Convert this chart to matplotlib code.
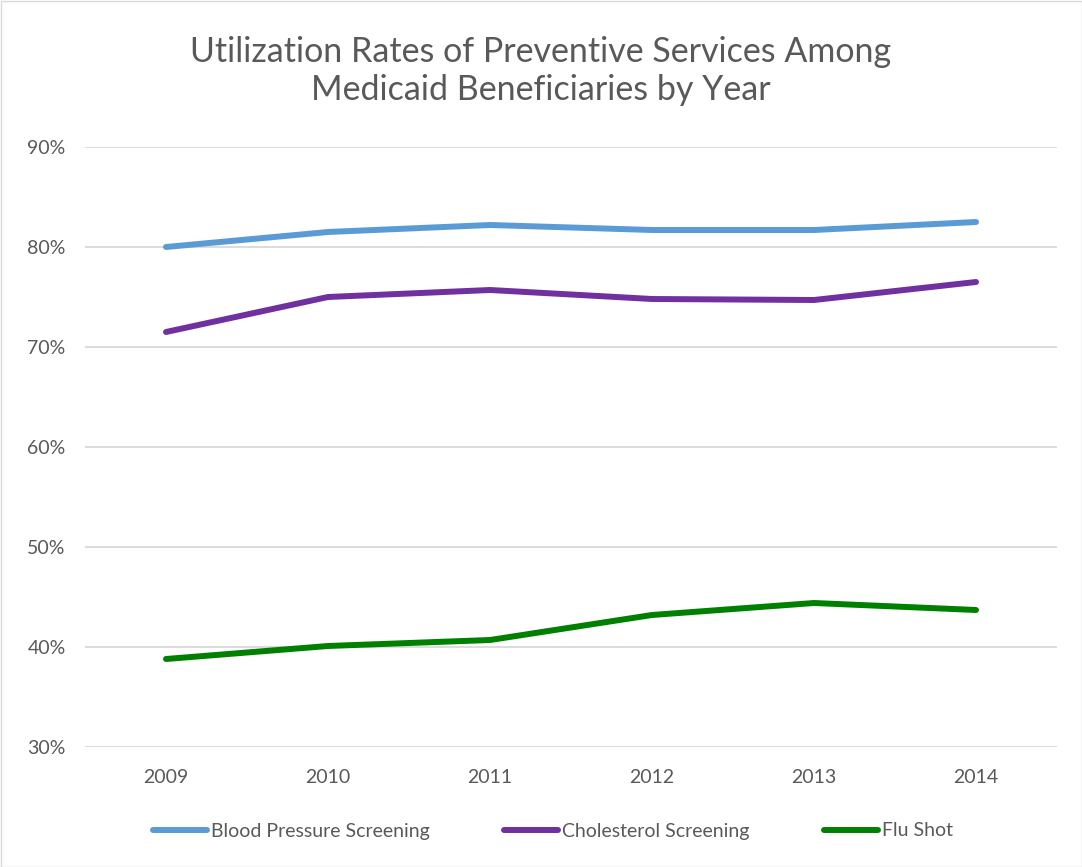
import matplotlib
matplotlib.use("Agg")
import matplotlib.pyplot as plt
from matplotlib.ticker import FuncFormatter
from matplotlib.patches import Rectangle

years = ["2009", "2010", "2011", "2012", "2013", "2014"]
blood_pressure = [80.0, 81.5, 82.2, 81.7, 81.7, 82.5]
cholesterol = [71.5, 75.0, 75.7, 74.8, 74.7, 76.5]
flu_shot = [38.8, 40.1, 40.7, 43.2, 44.4, 43.7]
series_names = ["Blood Pressure Screening", "Cholesterol Screening", "Flu Shot"]
colors = ["#5B9BD5", "#7030A0", "#008000"]
yticks = [30, 40, 50, 60, 70, 80, 90]

plt.rcParams['font.family'] = ['Lato', 'DejaVu Sans']
text_color = "#595959"

fig = plt.figure(figsize=(10.82, 8.67), dpi=100)
ax = fig.add_axes([85/1082, 1-747/867, (1057-85)/1082, 600/867])

x = list(range(len(years)))
for vals, name, c in zip([blood_pressure, cholesterol, flu_shot], series_names, colors):
    ax.plot(x, vals, color=c, lw=4.3, label=name, solid_capstyle='round', solid_joinstyle='round')

ax.set_xlim(-0.5, len(years)-0.5)
ax.set_ylim(30, 90)
ax.set_yticks(yticks)
ax.yaxis.set_major_formatter(FuncFormatter(lambda v, p: f"{int(v)}%"))
ax.set_xticks(x)
ax.set_xticklabels(years)
ax.grid(axis='y', color="#D9D9D9", lw=1.3)
ax.set_axisbelow(True)
for s in ax.spines.values():
    s.set_visible(False)
ax.tick_params(axis='both', length=0, colors=text_color, labelsize=14)
ax.tick_params(axis='x', pad=16)
ax.tick_params(axis='y', pad=14)

fig.text(0.5, 1-71/867, "Utilization Rates of Preventive Services Among\nMedicaid Beneficiaries by Year",
         ha='center', va='center', fontsize=24.5, color=text_color, linespacing=1.2)

leg = fig.legend(loc='center', bbox_to_anchor=(0.511, 1-831/867), ncol=3, frameon=False,
                 fontsize=14, handlelength=2.8, columnspacing=3.8, handletextpad=0.2)
for t in leg.get_texts():
    t.set_color(text_color)

fig.patches.append(Rectangle((0.5/1082, 0.5/867), 1-1/1082, 1-1/867, transform=fig.transFigure,
                             fill=False, edgecolor="#D9D9D9", lw=1))

fig.savefig("out.png", dpi=100)
